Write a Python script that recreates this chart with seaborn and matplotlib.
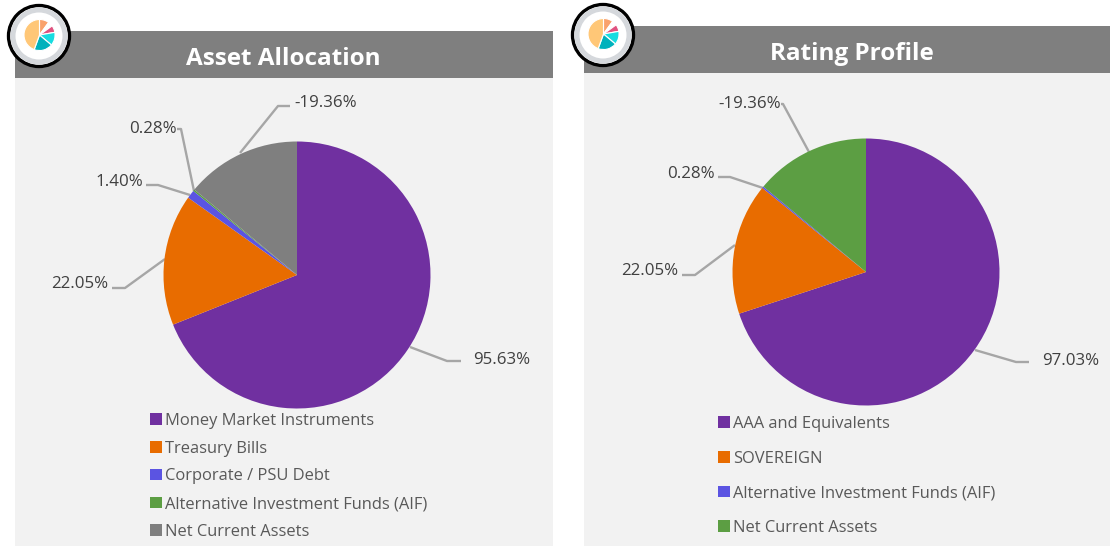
import matplotlib
matplotlib.use("Agg")
import matplotlib.pyplot as plt
from matplotlib.patches import Rectangle, Circle
import numpy as np
import seaborn as sns

# ---- data ----
asset_title = "Asset Allocation"
asset_labels = ["Money Market Instruments", "Treasury Bills", "Corporate / PSU Debt",
                "Alternative Investment Funds (AIF)", "Net Current Assets"]
asset_values = [95.63, 22.05, 1.40, 0.28, -19.36]

rating_title = "Rating Profile"
rating_labels = ["AAA and Equivalents", "SOVEREIGN", "Alternative Investment Funds (AIF)",
                 "Net Current Assets"]
rating_values = [97.03, 22.05, 0.28, -19.36]

icon_values = [36, 18, 26, 50, 70, 160]

# ---- styles ----
PURPLE, ORANGE, BLUE, GREEN, GREY = "#7030A0", "#E86C00", "#5B54E2", "#5C9E43", "#7F7F7F"
asset_colors = [PURPLE, ORANGE, BLUE, GREEN, GREY]
rating_colors = [PURPLE, ORANGE, BLUE, GREEN]
icon_colors = ["#F9A26C", "white", "#E0527F", "#17DCE0", "#00B1BC", "#FFC777"]

W, H = 1110, 546
sns.set_theme(style="white")
plt.rcParams["font.family"] = ["Open Sans", "DejaVu Sans"]
fig = plt.figure(figsize=(W / 100, H / 100), dpi=100, facecolor="white")
ax = fig.add_axes([0, 0, 1, 1])


def Y(py):
    return H - py


def panel(x0, x1, head_top, head_bot, title, title_y, title_x):
    ax.add_patch(Rectangle((x0, 0), x1 - x0, Y(head_bot), fc="#F2F2F2", ec="none", zorder=0))
    ax.add_patch(Rectangle((x0, Y(head_bot)), x1 - x0, head_bot - head_top, fc=GREY, ec="none", zorder=1))
    ax.text(title_x, Y(title_y), title, color="white", fontsize=17.5, fontweight="bold",
            family="Open Sans", ha="center", va="center", zorder=2)


def main_pie(values, colors, cx, cy, r):
    sizes = np.abs(values)  # the negative share is drawn by its magnitude
    wedges, _ = ax.pie(sizes, colors=colors, startangle=90, counterclock=False,
                       center=(cx, Y(cy)), radius=r, frame=True,
                       wedgeprops=dict(linewidth=0))
    for w in wedges:
        w.set_zorder(3)
    return wedges


def leader(value, text_xy, ha, path):
    xs = [p[0] for p in path]
    ys = [Y(p[1]) for p in path]
    ax.plot(xs, ys, color="#A6A6A6", lw=1.7, zorder=2.5, solid_capstyle="butt")
    ax.text(text_xy[0], Y(text_xy[1]), f"{value:.2f}%", color="#404040", fontsize=12.2,
            ha=ha, va="center", zorder=5)


def icon(cx, cy):
    ax.add_patch(Circle((cx, Y(cy)), 30.5, fc="white", ec="black", lw=2.4, zorder=6))
    ax.add_patch(Circle((cx, Y(cy)), 26, fc="white", ec="#D5D8DC", lw=3.6, zorder=6))
    wedges, _ = ax.pie(icon_values, colors=icon_colors, startangle=90, counterclock=False,
                       center=(cx + 0.5, Y(cy - 1)), radius=15.5, frame=True,
                       explode=[0.06, 0, 0.1, 0.06, 0.06, 0.02],
                       wedgeprops=dict(linewidth=0.8, edgecolor="white"))
    for w in wedges:
        w.set_zorder(7)


def legend(handles, labels, left, top, spacing_em):
    leg = ax.legend(handles, labels, loc="upper left",
                    bbox_to_anchor=(left, Y(top)), bbox_transform=ax.transData,
                    frameon=False, fontsize=11.9, labelcolor="#595959",
                    handlelength=0.7, handleheight=0.7, handletextpad=0.19,
                    borderpad=0, borderaxespad=0,
                    labelspacing=spacing_em)
    leg.set_zorder(5)
    return leg


# ---- left panel ----
panel(15, 553, 31, 78, asset_title, 59, 283.5)
w1 = main_pie(asset_values, asset_colors, 297, 275, 133.5)
leader(asset_values[0], (502, 360), "center", [(461, 361), (447, 361), (410, 347)])
leader(asset_values[1], (80, 283.5), "center", [(112, 288), (125, 288), (165, 259)])
leader(asset_values[2], (119, 182), "center", [(146, 185), (158, 185), (190, 195)])
leader(asset_values[3], (153, 129), "center", [(177, 129), (181, 129), (194, 191)])
leader(asset_values[4], (326, 103), "center", [(290, 106), (278, 106), (240, 153)])
leg1 = legend(w1, asset_labels, 150, 413, 0.71)
ax.add_artist(leg1)

# ---- right panel ----
panel(584, 1110, 26, 73, rating_title, 54, 851.5)
w2 = main_pie(rating_values, rating_colors, 866, 272, 133.5)
leader(rating_values[0], (1071, 361), "center", [(1029, 362), (1016, 362), (975, 350)])
leader(rating_values[1], (650, 271), "center", [(682, 275), (695, 275), (735, 245)])
leader(rating_values[2], (691, 174), "center", [(718, 177), (730, 177), (763, 188)])
leader(rating_values[3], (750, 104), "center", [(781, 104), (783, 104), (809, 152)])
legend(w2, rating_labels, 718, 416, 1.13)

icon(39, 36)
icon(603, 35)

ax.set_xlim(0, W)
ax.set_ylim(0, H)
ax.set_aspect("equal")
ax.axis("off")
fig.savefig("out.png", dpi=100, facecolor="white")
